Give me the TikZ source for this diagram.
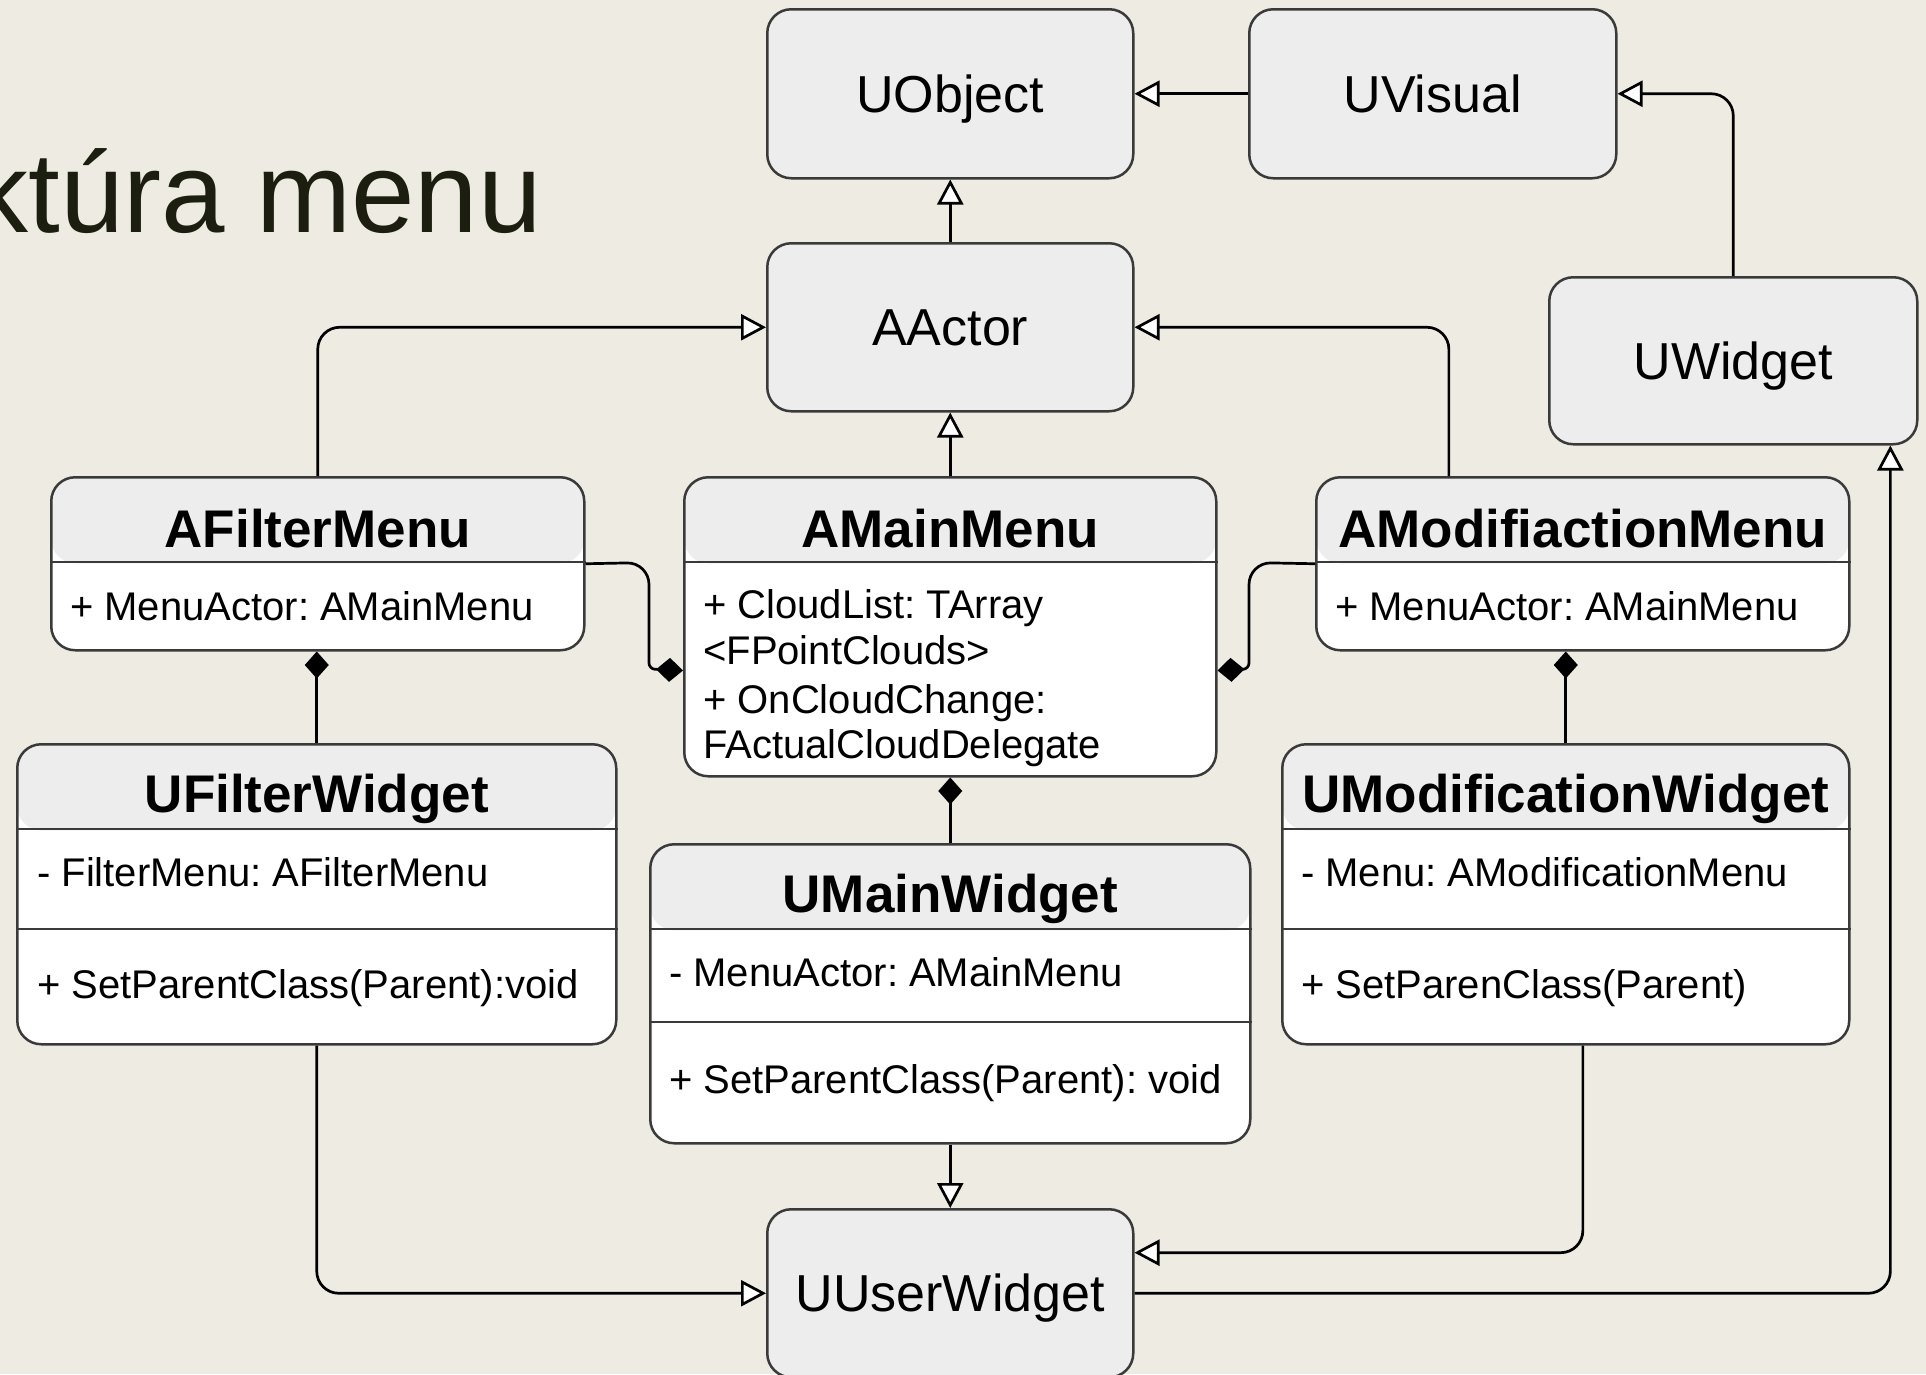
\documentclass[tikz,border=0pt]{standalone}
\usepackage{fontspec}
\setmainfont{Liberation Sans}[Ligatures=CommonOff]
\usetikzlibrary{arrows.meta,calc}
\definecolor{bg}{RGB}{238,235,227}
\definecolor{hdr}{RGB}{237,237,237}
\definecolor{bord}{RGB}{58,58,58}
\definecolor{ttl}{RGB}{28,30,16}
\frenchspacing
\begin{document}
\begin{tikzpicture}[x=1pt,y=-1pt,
  box/.style={draw=bord, line width=2.5pt, rounded corners=24pt, inner sep=0pt, anchor=north west},
  simplebox/.style={box, fill=hdr, font=\fontsize{52}{60}\selectfont, text height=37pt, text depth=0pt},
  classbox/.style={box, fill=white, path picture={\fill[hdr] (path picture bounding box.north west) rectangle ([yshift=-#1]path picture bounding box.north east);}},
  cls/.style={font=\bfseries\fontsize{53}{60}\selectfont, anchor=base, inner sep=0pt},
  attr/.style={font=\fontsize{40}{46}\selectfont, anchor=base west, inner sep=0pt},
  divider/.style={draw=bord, line width=2.5pt},
  conn/.style={draw=black, line width=2.7pt, rounded corners=22pt},
  inh/.style={conn, -{Triangle[fill=white, length=25pt, width=26pt]}},
  comp/.style={conn, -{Diamond[length=27pt, width=24pt]}}]
\fill[bg] (0,0) rectangle (1926,1374);
\useasboundingbox (0,0) rectangle (1926,1374);

% title
\node[font=\fontsize{114}{130}\selectfont, text=ttl, anchor=base east, inner sep=0pt] (title) at (542,232) {ktúra menu};

% simple boxes
\node[simplebox, minimum width=366pt, minimum height=169pt] (uobj) at (766,8) {UObject};
\node[simplebox, minimum width=367pt, minimum height=169pt] (uvis) at (1248,8) {UVisual};
\node[simplebox, minimum width=366pt, minimum height=168pt] (aact) at (766,242) {AActor};
\node[simplebox, minimum width=368pt, minimum height=167pt] (uwid) at (1548,276) {UWidget};
\node[simplebox, minimum width=366pt, minimum height=168pt] (uuw) at (766,1208) {UUserWidget};

% class boxes
\node[classbox=86pt, minimum width=533pt, minimum height=173pt] (afm) at (50,476) {};
\node[classbox=86pt, minimum width=532pt, minimum height=299pt] (amm) at (683,476) {};
\node[classbox=86pt, minimum width=533pt, minimum height=173pt] (amod) at (1315,476) {};
\node[classbox=86pt, minimum width=599pt, minimum height=300pt] (ufw) at (16,743) {};
\node[classbox=86pt, minimum width=600pt, minimum height=299pt] (umw) at (649,843) {};
\node[classbox=86pt, minimum width=567pt, minimum height=300pt] (umod) at (1281,743) {};

% dividers
\draw[divider] (afm.west |- 0,562) -- (afm.east |- 0,562);
\draw[divider] (amm.west |- 0,562) -- (amm.east |- 0,562);
\draw[divider] (amod.west |- 0,562) -- (amod.east |- 0,562);
\draw[divider] (ufw.west |- 0,829) -- (ufw.east |- 0,829);
\draw[divider] (ufw.west |- 0,929) -- (ufw.east |- 0,929);
\draw[divider] (umw.west |- 0,929) -- (umw.east |- 0,929);
\draw[divider] (umw.west |- 0,1022) -- (umw.east |- 0,1022);
\draw[divider] (umod.west |- 0,829) -- (umod.east |- 0,829);
\draw[divider] (umod.west |- 0,929) -- (umod.east |- 0,929);

% class titles
\node[cls] (afm-t) at ($(afm.north)+(0,71)$) {AFilterMenu};
\node[cls] (amm-t) at ($(amm.north)+(0,71)$) {AMainMenu};
\node[cls] (amod-t) at ($(amod.north)+(0,71)$) {AModifiactionMenu};
\node[cls] (ufw-t) at ($(ufw.north)+(0,69)$) {UFilterWidget};
\node[cls] (umw-t) at ($(umw.north)+(0,69)$) {UMainWidget};
\node[cls] (umod-t) at ($(umod.north)+(0,69)$) {UModificationWidget};

% members
\node[attr] (afm-a) at (70,620) {+ MenuActor: AMainMenu};
\node[attr] (amm-a1) at (703,618) {+ CloudList: TArray};
\node[attr] (amm-a2) at (703,664) {<FPointClouds>};
\node[attr] (amm-a3) at (703,713) {+ OnCloudChange:};
\node[attr] (amm-a4) at (703,758) {FActualCloudDelegate};
\node[attr] (amod-a) at (1335,620) {+ MenuActor: AMainMenu};
\node[attr] (ufw-a) at (37,886) {- FilterMenu: AFilterMenu};
\node[attr] (ufw-m) at (37,998) {+ SetParentClass(Parent):void};
\node[attr] (umw-a) at (669,986) {- MenuActor: AMainMenu};
\node[attr] (umw-m) at (669,1093) {+ SetParentClass(Parent): void};
\node[attr] (umod-a) at (1301,886) {- Menu: AModificationMenu};
\node[attr] (umod-m) at (1301,998) {+ SetParenClass(Parent)};

% inheritance
\draw[inh] (uvis.west) -- (uobj.east);
\draw[inh] (uwid.north) |- (uvis.east);
\draw[inh] (aact.north) -- (uobj.south);
\draw[inh] (amm.north) -- (aact.south);
\draw[inh] (afm.north) |- (aact.west);
\draw[inh] ($(amod.north west)!0.25!(amod.north east)$) |- (aact.east);
\draw[inh] (ufw.south) |- (uuw.west);
\draw[inh] (umw.south) -- (uuw.north);
\draw[inh] ($(umod.south west)!0.53!(umod.south east)$) |- ($(uuw.north east)!0.262!(uuw.south east)$);
\draw[inh] (uuw.east) -| ($(uwid.south west)!0.924!(uwid.south east)$);

% composition
\draw[comp] (afm.east) [rounded corners=22pt] -- (649,562.5) [rounded corners=6pt] -- (649,669) -- ($(amm.north west)!0.645!(amm.south west)$);
\draw[comp] (amod.west) [rounded corners=22pt] -- (1249,562.5) [rounded corners=6pt] -- (1249,669) -- ($(amm.north east)!0.645!(amm.south east)$);
\draw[comp] (ufw.north) -- (ufw.north |- afm.south);
\draw[comp] (umw.north) -- (amm.south);
\draw[comp] (umod.north) -- (umod.north |- amod.south);
\end{tikzpicture}
\end{document}
